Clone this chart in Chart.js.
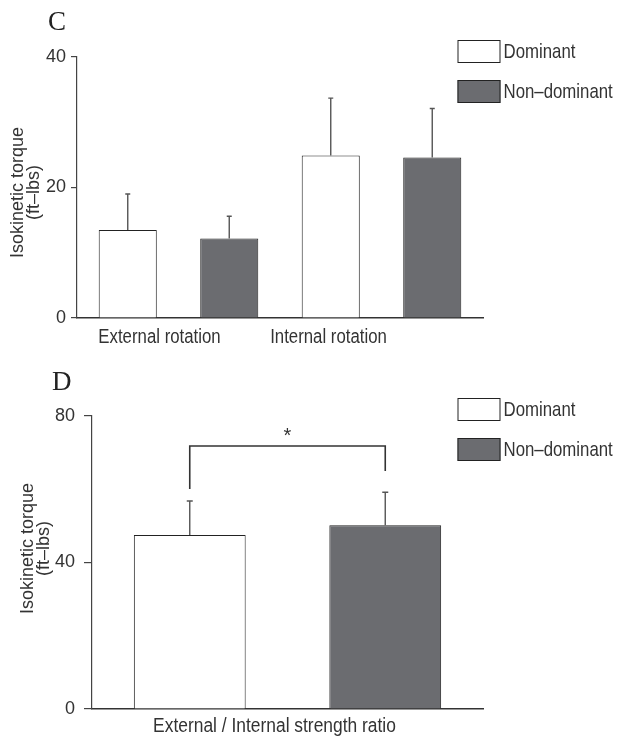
<!DOCTYPE html>
<html>
<head>
<meta charset="utf-8">
<script src="https://cdn.jsdelivr.net/npm/chart.js@4.4.0/dist/chart.umd.min.js"></script>
<style>
  body { margin: 0; background: #fff; width: 617px; height: 738px; position: relative; overflow: hidden; }
  .panel { position: absolute; left: 0; }
  .letter { position: absolute; font-family: "Liberation Serif", "DejaVu Serif", serif; font-size: 27px; line-height: 27px; color: #222; }
</style>
</head>
<body>
<div class="panel" style="top:0"><canvas id="chart-c" width="617" height="360"></canvas></div>
<div class="panel" style="top:360px"><canvas id="chart-d" width="617" height="378"></canvas></div>
<div class="letter" style="left:48px; top:8px">C</div>
<div class="letter" style="left:52px; top:368px">D</div>
<script>
// Panel C: torque for external / internal rotation
const rotationLabels = ['External rotation', 'Internal rotation'];
const rotationDominant = [13.5, 24.9];
const rotationDominantSd = [5.5, 8.8];
const rotationNonDominant = [12.2, 24.6];
const rotationNonDominantSd = [3.4, 7.5];
const rotationTicks = [0, 20, 40];

// Panel D: external / internal strength ratio
const ratioLabels = ['External / Internal strength ratio'];
const ratioDominant = [47.5];
const ratioDominantSd = [9.3];
const ratioNonDominant = [50.2];
const ratioNonDominantSd = [9.0];
const ratioTicks = [0, 40, 80];
// significance bracket: top line, bottom of left leg, bottom of right leg
const ratioBracket = [71.8, 60.1, 65.0];
const ratioStar = 75.5;

const seriesNames = ['Dominant', 'Non–dominant'];
const yTitle = ['Isokinetic torque', '(ft–lbs)'];

const FONT = '"Liberation Sans", Arial, sans-serif';
const INK = '#333';
const barFill = ['#ffffff', '#6b6c70'];

// the original uses a condensed face: draw a normal one squeezed sideways
function squeezedText(ctx, text, x, y, size, squeeze) {
    ctx.save();
    ctx.font = size + 'px ' + FONT;
    ctx.translate(x, y);
    ctx.scale(squeeze, 1);
    ctx.fillText(text, 0, 0);
    ctx.restore();
}

// error bars, x labels, legend, y title and bracket drawn on top of the bars
const panelDecor = {
    id: 'panelDecor',
    afterDatasetsDraw(chart, args, o) {
        const ctx = chart.ctx;
        const y = chart.scales.y;
        const area = chart.chartArea;
        ctx.save();

        // error bars (mean + SD)
        ctx.strokeStyle = '#555';
        ctx.lineWidth = 1.4;
        chart.data.datasets.forEach((ds, i) => {
            chart.getDatasetMeta(i).data.forEach((bar, j) => {
                const top = y.getPixelForValue(ds.data[j] + ds.sd[j]);
                ctx.beginPath();
                ctx.moveTo(bar.x, bar.y);
                ctx.lineTo(bar.x, top);
                ctx.moveTo(bar.x - o.cap / 2, top);
                ctx.lineTo(bar.x + o.cap / 2, top);
                ctx.stroke();
            });
        });

        // category labels under the axis (shifted like the original)
        ctx.fillStyle = INK;
        ctx.textAlign = 'center';
        ctx.textBaseline = 'middle';
        chart.data.labels.forEach((lab, i) => {
            const x = chart.scales.x.getPixelForValue(i) + o.labelShift[i];
            squeezedText(ctx, lab, x, area.bottom + o.labelGap, 20, o.labelSqueeze);
        });

        // y axis title, two rotated lines
        ctx.font = '18px ' + FONT;
        const cy = (area.top + area.bottom) / 2 + o.titleShift;
        yTitle.forEach((line, i) => {
            ctx.save();
            ctx.translate(o.titleX[i], cy);
            ctx.rotate(-Math.PI / 2);
            ctx.fillText(line, 0, 0);
            ctx.restore();
        });

        // legend boxes at top right
        ctx.textAlign = 'left';
        chart.data.datasets.forEach((ds, i) => {
            const lx = area.right - 25.5;
            const ly = area.top + o.legendTop + i * 40;
            ctx.fillStyle = ds.backgroundColor;
            ctx.fillRect(lx, ly, 43, 23);
            ctx.strokeStyle = '#222';
            ctx.lineWidth = 1;
            ctx.strokeRect(lx + 0.5, ly + 0.5, 42, 22);
            ctx.fillStyle = INK;
            squeezedText(ctx, ds.label, lx + 46, ly + 12, 21, 0.8);
        });

        // significance bracket
        if (o.bracket) {
            const x0 = chart.getDatasetMeta(0).data[0].x;
            const x1 = chart.getDatasetMeta(1).data[0].x;
            const yt = y.getPixelForValue(o.bracket[0]);
            ctx.strokeStyle = '#333';
            ctx.lineWidth = 1.6;
            ctx.beginPath();
            ctx.moveTo(x0, y.getPixelForValue(o.bracket[1]));
            ctx.lineTo(x0, yt);
            ctx.lineTo(x1, yt);
            ctx.lineTo(x1, y.getPixelForValue(o.bracket[2]));
            ctx.stroke();
            ctx.fillStyle = INK;
            ctx.textAlign = 'center';
            ctx.font = '20px ' + FONT;
            ctx.fillText('*', (x0 + x1) / 2, y.getPixelForValue(o.star) + 4);
        }
        ctx.restore();
    }
};

function makeChart(id, p) {
    return new Chart(document.getElementById(id), {
        type: 'bar',
        data: {
            labels: p.labels,
            datasets: [
                { label: seriesNames[0], data: p.dom, sd: p.domSd, backgroundColor: barFill[0] },
                { label: seriesNames[1], data: p.non, sd: p.nonSd, backgroundColor: barFill[1] }
            ]
        },
        options: {
            responsive: false,
            animation: false,
            layout: { padding: { top: p.top, right: 134, bottom: 0, left: 0 } },
            datasets: {
                bar: {
                    categoryPercentage: 1.0,
                    barPercentage: 0.572,
                    borderColor: '#222',
                    borderWidth: 1,
                    borderSkipped: 'start'
                }
            },
            scales: {
                x: {
                    grid: { display: false },
                    border: { display: true, color: '#333', width: 1.5 },
                    ticks: { display: false },
                    afterFit: s => { s.height = p.xHeight; }
                },
                y: {
                    min: 0,
                    max: p.ticks[p.ticks.length - 1],
                    grid: { drawOnChartArea: false, drawTicks: true, tickLength: p.tickLen, color: '#444', lineWidth: 1.2 },
                    border: { display: true, color: '#444', width: 1.2 },
                    ticks: { font: { family: FONT, size: 18 }, color: INK, padding: p.tickPad },
                    afterBuildTicks: s => { s.ticks = p.ticks.map(v => ({ value: v })); },
                    afterFit: s => { s.width = p.yWidth; }
                }
            },
            plugins: {
                legend: { display: false },
                tooltip: { enabled: false },
                panelDecor: {
                    cap: p.cap,
                    labelShift: p.labelShift,
                    labelGap: p.labelGap,
                    labelSqueeze: p.labelSqueeze,
                    titleX: p.titleX,
                    titleShift: p.titleShift,
                    legendTop: p.legendTop,
                    bracket: p.bracket,
                    star: p.star
                }
            }
        },
        plugins: [panelDecor]
    });
}

makeChart('chart-c', {
    labels: rotationLabels,
    dom: rotationDominant, domSd: rotationDominantSd,
    non: rotationNonDominant, nonSd: rotationNonDominantSd,
    ticks: rotationTicks,
    top: 57, xHeight: 42, yWidth: 77, tickLen: 6, tickPad: 5, cap: 5,
    labelShift: [-19, -53], labelGap: 19, labelSqueeze: 0.84,
    titleX: [18, 34], titleShift: 5,
    legendTop: -17
});

makeChart('chart-d', {
    labels: ratioLabels,
    dom: ratioDominant, domSd: ratioDominantSd,
    non: ratioNonDominant, nonSd: ratioNonDominantSd,
    ticks: ratioTicks,
    top: 56, xHeight: 29, yWidth: 92, tickLen: 8, tickPad: 9, cap: 6,
    labelShift: [-13], labelGap: 17, labelSqueeze: 0.87,
    titleX: [28, 44], titleShift: -14,
    legendTop: -18,
    bracket: ratioBracket,
    star: ratioStar
});
</script>
</body>
</html>
